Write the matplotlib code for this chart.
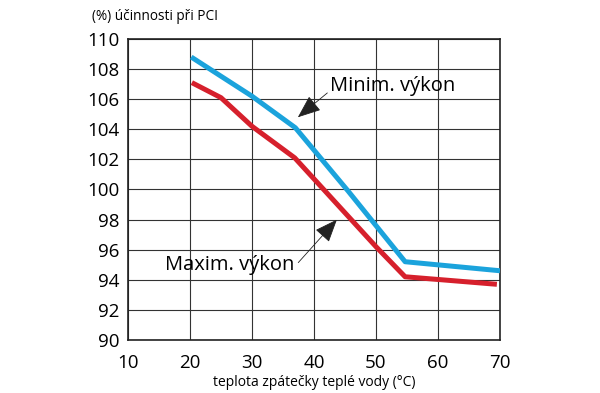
import matplotlib
matplotlib.use('Agg')
import matplotlib.pyplot as plt

plt.rcParams['font.family'] = ['Open Sans', 'DejaVu Sans']

# data
min_x = [20.2, 30, 37, 45.5, 54.7, 70]
min_y = [108.8, 106.2, 104.1, 99.9, 95.2, 94.6]
max_x = [20.3, 25, 30, 36.9, 50, 54.7, 69.5]
max_y = [107.1, 106.1, 104.2, 102.1, 96.2, 94.2, 93.7]

xticks = [10, 20, 30, 40, 50, 60, 70]
yticks = [90, 92, 94, 96, 98, 100, 102, 104, 106, 108, 110]

fig = plt.figure(figsize=(6, 3.93), dpi=100)
ax = fig.add_axes([0.2133, 0.1349, 0.62, 0.7659])

ax.plot(min_x, min_y, color='#1ba3dc', lw=3.6, solid_capstyle='butt', zorder=3)
ax.plot(max_x, max_y, color='#d6202c', lw=3.6, solid_capstyle='butt', zorder=3)

ax.set_xlim(10, 70)
ax.set_ylim(90, 110)
ax.set_xticks(xticks)
ax.set_yticks(yticks)
ax.tick_params(length=0, labelsize=13.5)
ax.tick_params(axis='x', pad=10)
ax.tick_params(axis='y', pad=6)
ax.grid(True, color='#333333', lw=0.8)
ax.set_axisbelow(True)
for s in ax.spines.values():
    s.set_color('#222222')
    s.set_linewidth(1.2)

head = '-|>,head_length=1.0,head_width=0.4'
ax.annotate('Minim. výkon', xy=(37.4, 104.8), xytext=(42.6, 106.9),
            fontsize=14.5, va='center', ha='left',
            arrowprops=dict(arrowstyle=head, color='#222222', lw=0.6,
                            shrinkA=0, shrinkB=0, relpos=(0.0, 0.25)))
ax.annotate('Maxim. výkon', xy=(43.7, 98.0), xytext=(16.0, 95.0),
            fontsize=14.5, va='center', ha='left',
            arrowprops=dict(arrowstyle=head, color='#222222', lw=0.6,
                            shrinkA=1, shrinkB=0, relpos=(1.0, 0.4)))

fig.text(92 / 600, 1 - 16 / 393, '(%) účinnosti při PCI', fontsize=9.8,
         va='center', ha='left')
ax.set_xlabel('teplota zpátečky teplé vody (°C)', fontsize=10, labelpad=2)

fig.savefig('out.png', dpi=100)
